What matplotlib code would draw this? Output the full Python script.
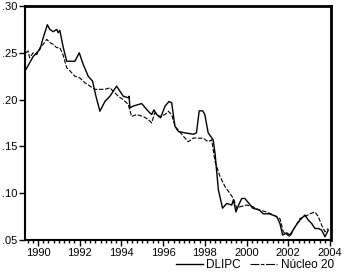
import numpy as np
import matplotlib.pyplot as plt
from matplotlib.ticker import MultipleLocator, FuncFormatter

plt.rcParams['font.family'] = ['Liberation Sans', 'DejaVu Sans']

# decimal years and values
dlipc_t = [1989.42, 1989.77, 1990.10, 1990.25, 1990.45, 1990.57, 1990.73, 1990.90, 1990.97,
           1991.05, 1991.20, 1991.38, 1991.55, 1991.77, 1991.98, 1992.17, 1992.41, 1992.62,
           1992.78, 1992.97, 1993.21, 1993.45, 1993.77, 1994.09, 1994.33, 1994.37, 1994.41,
           1994.55, 1994.97, 1995.29, 1995.45, 1995.56, 1995.70, 1995.88, 1996.09, 1996.28,
           1996.41, 1996.57, 1996.73, 1997.05, 1997.45, 1997.60, 1997.73, 1997.90, 1998.00,
           1998.16, 1998.40, 1998.49, 1998.65, 1998.85, 1999.05, 1999.29, 1999.37, 1999.49,
           1999.62, 1999.77, 1999.92, 2000.30, 2000.62, 2000.80, 2001.10, 2001.45, 2001.60,
           2001.73, 2001.92, 2002.08, 2002.32, 2002.56, 2002.80, 2002.96, 2003.12, 2003.28,
           2003.44, 2003.60, 2003.76, 2003.92]
dlipc_v = [0.232, 0.246, 0.254, 0.266, 0.280, 0.275, 0.2726, 0.275, 0.2715,
           0.274, 0.257, 0.241, 0.241, 0.241, 0.250, 0.2376, 0.225, 0.2197,
           0.2036, 0.1876, 0.198, 0.2036, 0.2144, 0.2036, 0.202, 0.2036, 0.191,
           0.193, 0.1958, 0.1876, 0.184, 0.189, 0.184, 0.1805, 0.193, 0.198,
           0.1966, 0.1715, 0.166, 0.1645, 0.163, 0.1645, 0.188, 0.188, 0.184,
           0.1645, 0.157, 0.1426, 0.1035, 0.084, 0.0891, 0.0874, 0.093, 0.080,
           0.0874, 0.0944, 0.0944, 0.084, 0.082, 0.078, 0.078, 0.075, 0.0677,
           0.0553, 0.0577, 0.0553, 0.064, 0.0713, 0.0767, 0.0713, 0.0677, 0.0623,
           0.0623, 0.0606, 0.0535, 0.0606]

nucleo_t = [1989.42, 1989.53, 1989.60, 1989.77, 1989.94, 1990.10, 1990.25, 1990.42, 1990.57,
            1990.73, 1990.90, 1991.05, 1991.20, 1991.38, 1991.55, 1991.77, 1992.00, 1992.25,
            1992.50, 1992.73, 1992.97, 1993.21, 1993.45, 1993.61, 1993.85, 1994.09, 1994.33,
            1994.49, 1994.73, 1995.05, 1995.29, 1995.45, 1995.60, 1995.84, 1996.09, 1996.25,
            1996.41, 1996.57, 1996.97, 1997.20, 1997.45, 1997.93, 1998.16, 1998.33, 1998.49,
            1998.73, 1998.97, 1999.20, 1999.37, 1999.53, 1999.69, 2000.00, 2000.30, 2000.62,
            2000.96, 2001.28, 2001.60, 2001.76, 2002.08, 2002.24, 2002.56, 2002.80, 2003.04,
            2003.28, 2003.44, 2003.60, 2003.76, 2003.92]
nucleo_v = [0.250, 0.252, 0.2447, 0.250, 0.248, 0.2555, 0.259, 0.2644, 0.261,
            0.259, 0.2555, 0.2555, 0.248, 0.234, 0.2304, 0.225, 0.2233, 0.218,
            0.2144, 0.211, 0.211, 0.211, 0.2126, 0.209, 0.2036, 0.200, 0.1948,
            0.182, 0.184, 0.182, 0.1787, 0.1752, 0.186, 0.182, 0.184, 0.1876,
            0.184, 0.1715, 0.161, 0.155, 0.159, 0.1587, 0.155, 0.157, 0.1337,
            0.1177, 0.107, 0.0998, 0.0944, 0.084, 0.0856, 0.0874, 0.0856, 0.082,
            0.080, 0.0767, 0.073, 0.0588, 0.0535, 0.0606, 0.073, 0.075, 0.078,
            0.080, 0.075, 0.066, 0.0588, 0.0623]

fig = plt.figure(figsize=(3.45, 2.74), dpi=100)
ax = fig.add_axes([0.0725, 0.124, 0.887, 0.854])

ax.plot(dlipc_t, dlipc_v, color='black', lw=1.0, label='DLIPC')
ax.plot(nucleo_t, nucleo_v, color='black', lw=0.8, ls=(0, (4, 1.5)), label='Núcleo 20')

ax.set_xlim(1989.38, 2004.05)
ax.set_ylim(0.05, 0.30)
ax.xaxis.set_major_locator(MultipleLocator(2))
ax.xaxis.set_minor_locator(MultipleLocator(0.25))
ax.yaxis.set_major_locator(MultipleLocator(0.05))
ax.yaxis.set_major_formatter(FuncFormatter(lambda v, p: ('%.2f' % v).lstrip('0')))
ax.xaxis.set_major_formatter(FuncFormatter(lambda v, p: '%d' % v))

ax.tick_params(axis='both', direction='out', labelsize=8, width=1, pad=1.5)
ax.tick_params(axis='x', which='major', length=4)
ax.tick_params(axis='x', which='minor', length=2.5, width=1)
ax.tick_params(axis='y', length=4)
for s in ['top', 'right']:
    ax.spines[s].set_linewidth(2)
for s in ['left', 'bottom']:
    ax.spines[s].set_linewidth(1.5)

leg = ax.legend(loc='upper right', bbox_to_anchor=(1.01, -0.08), ncol=2, frameon=False,
                fontsize=8.5, handlelength=2.3, handletextpad=0.3, columnspacing=0.8,
                borderpad=0, borderaxespad=0)
leg.get_lines()[1].set_linestyle((0, (8, 1.5, 3, 1.5)))

fig.savefig('out.png', dpi=100)
